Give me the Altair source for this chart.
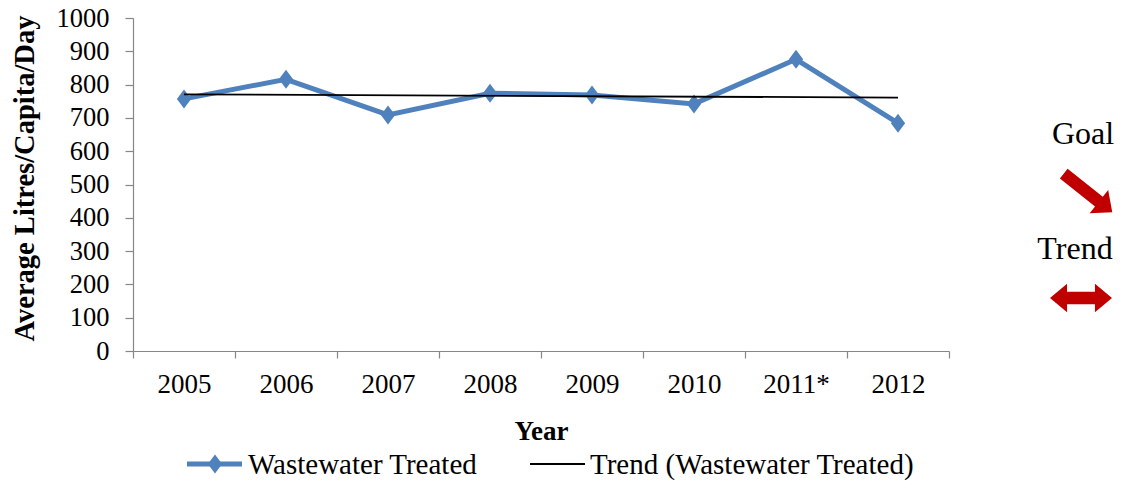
import altair as alt
import pandas as pd

# ---- data ----
years = ["2005", "2006", "2007", "2008", "2009", "2010", "2011*", "2012"]
idx = list(range(len(years)))
values = [757, 816, 709, 774, 769, 742, 876, 684]
y_ticks = list(range(0, 1001, 100))
series_name = "Wastewater Treated"
trend_name = "Trend (Wastewater Treated)"

df = pd.DataFrame({"idx": idx, "year": years, "value": values})
one = pd.DataFrame({"k": [0]})

BLUE = "#4F81BD"
AXIS = "#868686"
RED = "#C00000"
FONT = "Liberation Serif"

xscale = alt.Scale(domain=[-0.5, len(years) - 0.5], nice=False, zero=False)
yscale = alt.Scale(domain=[0, 1000], nice=False, zero=True)

label_expr = "[" + ",".join(f"'{y}'" for y in years) + "][datum.value]"

yaxis = alt.Axis(
    values=y_ticks, format="d", title="Average Litres/Capita/Day",
    titleFont=FONT, titleFontSize=28.5, titleFontWeight="bold",
    titleColor="black", titlePadding=17, titleY=160,
    labelFont=FONT, labelFontSize=26.5,
    labelColor="black", labelPadding=16, tickSize=8, tickColor=AXIS,
    domainColor=AXIS, domainWidth=1.2, tickWidth=1.2, grid=False,
)
xaxis_labels = alt.Axis(
    orient="bottom", values=idx, labelExpr=label_expr, ticks=False,
    domain=True, domainColor=AXIS, domainWidth=1.2, grid=False,
    labelFont=FONT, labelFontSize=27, labelColor="black", labelPadding=20,
    labelFlush=False, labelOverlap=False,
    title="Year", titleFont=FONT, titleFontSize=27, titleFontWeight="bold",
    titleColor="black", titlePadding=21,
)
xaxis_ticks = alt.Axis(
    orient="bottom", values=[i - 0.5 for i in range(len(years) + 1)],
    labels=False, ticks=True, tickSize=7, tickColor=AXIS, tickWidth=1.2,
    domain=False, grid=False, title=None,
)

DIAMOND = "M 0 -1 L 0.75 0 L 0 1 L -0.75 0 Z"
ARROW = "M -1 -0.2 L 0.45 -0.2 L 0.45 -0.48 L 1 0 L 0.45 0.48 L 0.45 0.2 L -1 0.2 Z"
DARROW = ("M -1 0 L -0.45 -0.46 L -0.45 -0.2 L 0.45 -0.2 L 0.45 -0.46 L 1 0 "
          "L 0.45 0.46 L 0.45 0.2 L -0.45 0.2 L -0.45 0.46 Z")

main = alt.Chart(df).mark_line(
    color=BLUE, strokeWidth=5,
    point=alt.OverlayMarkDef(shape=DIAMOND, size=360, filled=True,
                             color=BLUE, opacity=1),
).encode(
    x=alt.X("idx:Q", scale=xscale, axis=xaxis_labels),
    y=alt.Y("value:Q", scale=yscale, axis=yaxis),
)

trend = alt.Chart(df).transform_regression("idx", "value").mark_line(
    color="black", strokeWidth=1.8
).encode(
    x=alt.X("idx:Q", scale=xscale, axis=xaxis_ticks),
    y=alt.Y("value:Q", scale=yscale, axis=yaxis),
)


def txt(s, x, y, size, align="left"):
    return alt.Chart(one).mark_text(
        text=s, font=FONT, fontSize=size, align=align, baseline="middle",
        color="black",
    ).encode(x=alt.value(x), y=alt.value(y))


LEG_Y = 446
leg_line1 = alt.Chart(one).mark_rule(color=BLUE, strokeWidth=5).encode(
    x=alt.value(54), x2=alt.value(109), y=alt.value(LEG_Y))
leg_pt1 = alt.Chart(one).mark_point(
    shape=DIAMOND, size=360, filled=True, color=BLUE, opacity=1
).encode(x=alt.value(82), y=alt.value(LEG_Y))
leg_txt1 = txt(series_name, 115, LEG_Y + 1, 29)
leg_line2 = alt.Chart(one).mark_rule(color="black", strokeWidth=1.8).encode(
    x=alt.value(397), x2=alt.value(452), y=alt.value(LEG_Y))
leg_txt2 = txt(trend_name, 457, LEG_Y + 1, 29)

goal_txt = txt("Goal", 950, 116, 32, align="center")
goal_arrow = alt.Chart(one).mark_point(
    shape=ARROW, size=3844, angle=38.5, filled=True, color=RED, opacity=1,
    strokeWidth=0,
).encode(x=alt.value(955), y=alt.value(175))
trend_txt = txt("Trend", 942, 231, 32, align="center")
trend_arrow = alt.Chart(one).mark_point(
    shape=DARROW, size=3844, filled=True, color=RED, opacity=1, strokeWidth=0,
).encode(x=alt.value(948), y=alt.value(280))

chart = alt.layer(
    main, trend, leg_line1, leg_pt1, leg_txt1, leg_line2, leg_txt2,
    goal_txt, goal_arrow, trend_txt, trend_arrow,
).resolve_axis(x="independent").properties(
    width=816, height=333,
    autosize=alt.AutoSizeParams(type="none"),
    padding={"left": 125, "top": 10, "right": 165, "bottom": 130},
    background="white",
).configure_view(strokeWidth=0)

chart.save("out.html", embed_options={"renderer": "svg", "actions": False})
